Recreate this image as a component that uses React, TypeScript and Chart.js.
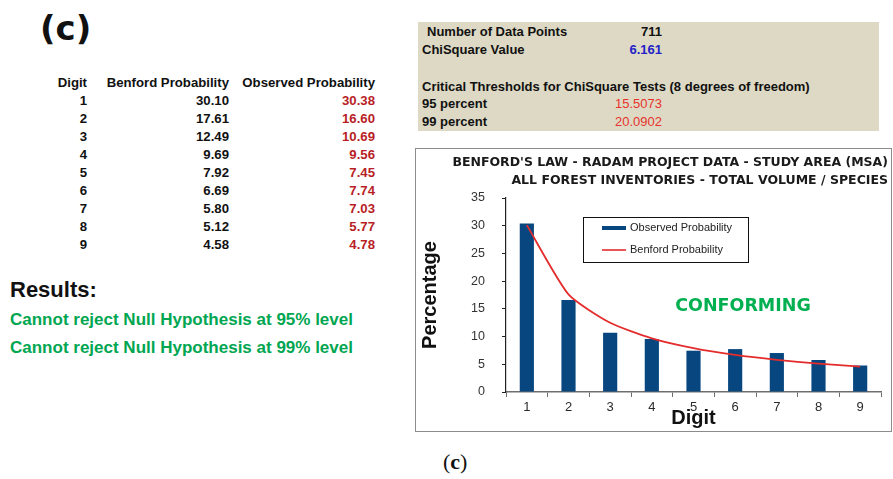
import React, { useEffect, useRef } from "react";
import { Chart, registerables } from "chart.js";

Chart.register(...registerables);

// ---------- data ----------
const digits = ["1", "2", "3", "4", "5", "6", "7", "8", "9"];
const benford = [30.1, 17.61, 12.49, 9.69, 7.92, 6.69, 5.8, 5.12, 4.58];
const observed = [30.38, 16.6, 10.69, 9.56, 7.45, 7.74, 7.03, 5.77, 4.78];
const yTicks = [0, 5, 10, 15, 20, 25, 30, 35];
const chartTitle = [
  "BENFORD'S LAW - RADAM PROJECT DATA - STUDY AREA (MSA)",
  "ALL FOREST INVENTORIES - TOTAL VOLUME / SPECIES",
];
const seriesLabels = ["Observed Probability", "Benford Probability"];
const tableHeaders = ["Digit", "Benford Probability", "Observed Probability"];
const numDataPoints = "711";
const chiSquareValue = "6.161";
const thresholdLabels = ["95 percent", "99 percent"];
const thresholdValues = ["15.5073", "20.0902"];
const resultLines = [
  "Cannot reject Null Hypothesis at 95% level",
  "Cannot reject Null Hypothesis at 99% level",
];
const verdict = "CONFORMING";

const NAVY = "#07467f";
const RED = "#e42c2c";
const SANS = "'Liberation Sans', Arial, sans-serif";
const VERDANA = "'DejaVu Sans', Verdana, sans-serif";

const overlayPlugin = {
  id: "overlay",
  afterDatasetsDraw(chart: any) {
    const { ctx, chartArea: ca } = chart;
    ctx.save();
    // legend box
    const lx = ca.left + 77;
    const ly = ca.top + 19;
    const lw = 165;
    const lh = 45;
    ctx.fillStyle = "#ffffff";
    ctx.fillRect(lx, ly, lw, lh);
    ctx.strokeStyle = "#111111";
    ctx.lineWidth = 1;
    ctx.strokeRect(Math.round(lx) + 0.5, Math.round(ly) + 0.5, lw, lh);
    const ds = chart.data.datasets;
    const items = [
      { label: ds[0].label, color: ds[0].backgroundColor, width: 4, y: ly + 11 },
      { label: ds[1].label, color: ds[1].borderColor, width: 1.6, y: ly + 33 },
    ];
    ctx.font = `11px ${SANS}`;
    ctx.textBaseline = "middle";
    ctx.textAlign = "left";
    for (const it of items) {
      ctx.strokeStyle = it.color;
      ctx.lineWidth = it.width;
      ctx.beginPath();
      ctx.moveTo(lx + 19, it.y);
      ctx.lineTo(lx + 43, it.y);
      ctx.stroke();
      ctx.fillStyle = "#222222";
      ctx.fillText(it.label, lx + 47, it.y);
    }
    // verdict text
    ctx.font = `bold 17.5px ${VERDANA}`;
    ctx.fillStyle = "#00b050";
    ctx.textAlign = "center";
    ctx.fillText(verdict, ca.left + 237, ca.top + 108);
    ctx.restore();
  },
};

function BenfordChart() {
  const ref = useRef<HTMLCanvasElement | null>(null);
  useEffect(() => {
    if (!ref.current) return;
    const chart = new Chart(ref.current, {
      type: "bar",
      data: {
        labels: digits,
        datasets: [
          {
            type: "bar",
            label: seriesLabels[0],
            data: observed,
            backgroundColor: NAVY,
            borderWidth: 0,
            barPercentage: 0.34,
            categoryPercentage: 1,
            order: 1,
          },
          {
            type: "line",
            label: seriesLabels[1],
            data: benford,
            borderColor: RED,
            borderWidth: 1.8,
            pointRadius: 0,
            tension: 0.2,
            fill: false,
            order: 0,
          } as any,
        ],
      },
      options: {
        animation: false,
        responsive: false,
        events: [],
        layout: { padding: { left: 0, right: 3, top: 0, bottom: 0 } },
        plugins: {
          legend: { display: false },
          tooltip: { enabled: false },
          title: {
            display: true,
            text: chartTitle,
            align: "end",
            color: "#1a1a1a",
            font: { family: VERDANA, size: 12.5, weight: "bold", lineHeight: "18px" },
            padding: { top: 5, bottom: 8 },
          },
        },
        scales: {
          x: {
            grid: {
              display: true,
              drawOnChartArea: false,
              drawTicks: true,
              tickLength: 5,
              color: "#6e6e6e",
              offset: true,
            },
            border: { display: true, color: "#6e6e6e", width: 1.5 },
            ticks: { color: "#2a2a2a", font: { family: SANS, size: 13 }, padding: 3 },
            title: {
              display: true,
              text: "Digit",
              color: "#111111",
              font: { family: SANS, size: 20, weight: "bold" },
              padding: { top: 0, bottom: 1 },
            },
            afterFit: (s: any) => {
              s.height = 39;
            },
          },
          y: {
            min: 0,
            max: 35,
            afterBuildTicks: (s: any) => {
              s.ticks = yTicks.map((v) => ({ value: v }));
            },
            grid: {
              display: true,
              drawOnChartArea: false,
              drawTicks: true,
              tickLength: 4,
              color: "#222222",
            },
            border: { display: true, color: "#222222", width: 1.2 },
            ticks: { color: "#333333", font: { family: SANS, size: 12.5 }, padding: 17 },
            title: {
              display: true,
              text: "Percentage",
              color: "#111111",
              font: { family: SANS, size: 20, weight: "bold" },
              padding: { top: 2, bottom: 0 },
            },
            afterFit: (s: any) => {
              s.width = 90;
            },
          },
          yPad: {
            position: "right",
            display: true,
            grid: { display: false },
            border: { display: false },
            ticks: { display: false },
            afterFit: (s: any) => {
              s.width = 7;
            },
          },
        },
      } as any,
      plugins: [overlayPlugin],
    });
    return () => chart.destroy();
  }, []);
  return <canvas ref={ref} width={475} height={282} style={{ width: 475, height: 282, display: "block" }} />;
}

const abs = (extra: React.CSSProperties): React.CSSProperties => ({
  position: "absolute",
  whiteSpace: "nowrap",
  ...extra,
});

export default function App() {
  const rowTop = (i: number) => 91.7 + 18.04 * i;
  return (
    <div
      style={{
        position: "absolute",
        left: 0,
        top: 0,
        width: 893,
        height: 479,
        background: "#ffffff",
        overflow: "hidden",
        fontFamily: SANS,
      }}
    >
      {/* panel label */}
      <div style={abs({ left: 40, top: 8, fontFamily: VERDANA, fontWeight: "bold", fontSize: 34, lineHeight: "40px", color: "#111" })}>
        (c)
      </div>

      {/* table */}
      <div style={{ fontSize: 13.2, fontWeight: "bold", lineHeight: "18px" }}>
        <div style={abs({ right: 893 - 87, top: 74, color: "#111" })}>{tableHeaders[0]}</div>
        <div style={abs({ right: 893 - 229, top: 74, color: "#111" })}>{tableHeaders[1]}</div>
        <div style={abs({ right: 893 - 375, top: 74, color: "#111" })}>{tableHeaders[2]}</div>
        {digits.map((d, i) => (
          <React.Fragment key={d}>
            <div style={abs({ right: 893 - 87, top: rowTop(i), color: "#111" })}>{d}</div>
            <div style={abs({ right: 893 - 229, top: rowTop(i), color: "#111" })}>{benford[i].toFixed(2)}</div>
            <div style={abs({ right: 893 - 375, top: rowTop(i), color: "#b81e25" })}>{observed[i].toFixed(2)}</div>
          </React.Fragment>
        ))}
      </div>

      {/* results */}
      <div style={abs({ left: 10, top: 277, fontSize: 22, lineHeight: "26px", fontWeight: "bold", color: "#111" })}>Results:</div>
      {resultLines.map((t, i) => (
        <div
          key={t}
          style={abs({ left: 10, top: 310 + 28 * i, fontSize: 17, lineHeight: "20px", fontWeight: "bold", color: "#00a651" })}
        >
          {t}
        </div>
      ))}

      {/* info box */}
      <div style={abs({ left: 418, top: 22, width: 461, height: 109, background: "#ddd9c4" })} />
      <div style={{ fontSize: 13, fontWeight: "bold", lineHeight: "18px", color: "#111" }}>
        <div style={abs({ left: 427, top: 23.3 })}>Number of Data Points</div>
        <div style={abs({ right: 893 - 662, top: 23.3 })}>{numDataPoints}</div>
        <div style={abs({ left: 422, top: 41 })}>ChiSquare Value</div>
        <div style={abs({ right: 893 - 662, top: 41, color: "#2222c8" })}>{chiSquareValue}</div>
        <div style={abs({ left: 422, top: 77.7 })}>Critical Thresholds for ChiSquare Tests (8 degrees of freedom)</div>
        {thresholdLabels.map((t, i) => (
          <React.Fragment key={t}>
            <div style={abs({ left: 422, top: 95.3 + 18 * i })}>{t}</div>
            <div style={abs({ right: 893 - 662, top: 95.3 + 18 * i, color: "#e8322c", fontWeight: "normal" })}>
              {thresholdValues[i]}
            </div>
          </React.Fragment>
        ))}
      </div>

      {/* chart box */}
      <div
        style={abs({
          left: 415,
          top: 148,
          width: 475,
          height: 282,
          border: "1px solid #8c8c8c",
          background: "#fff",
        })}
      >
        <BenfordChart />
      </div>

      {/* caption */}
      <div style={abs({ left: 443, top: 449, fontFamily: "'Liberation Serif', 'Times New Roman', serif", fontSize: 22, lineHeight: "26px", color: "#111" })}>
        (<b>c</b>)
      </div>
    </div>
  );
}
